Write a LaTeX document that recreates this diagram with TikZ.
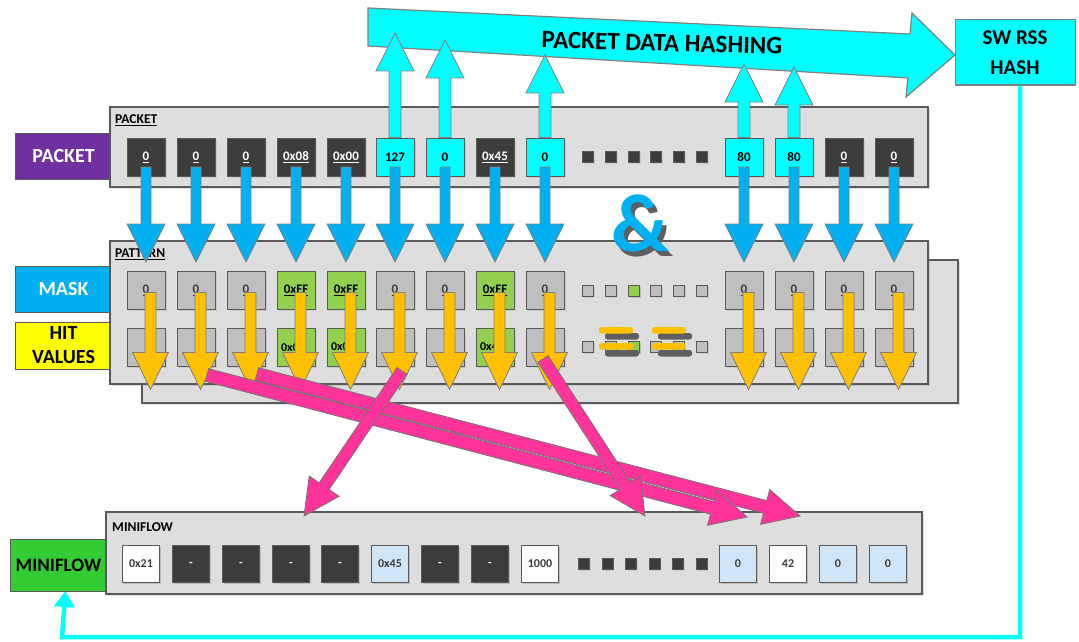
\documentclass[tikz,border=0pt]{standalone}
\usepackage{fontspec}
\setmainfont{Carlito}
\usetikzlibrary{calc,arrows.meta,shadows}

\definecolor{panelgray}{HTML}{DEDEDE}
\definecolor{edgegray}{HTML}{5A5A5A}
\definecolor{darkcell}{HTML}{3C3C3C}
\definecolor{graycell}{HTML}{BFBFBF}
\definecolor{greencell}{HTML}{92D050}
\definecolor{lightblue}{HTML}{CFE6F8}
\definecolor{hashcyan}{HTML}{00FFFF}
\definecolor{flowblue}{HTML}{00B0F0}
\definecolor{hitorange}{HTML}{FFC000}
\definecolor{pktpurple}{HTML}{7030A0}
\definecolor{hityellow}{HTML}{FFFF00}
\definecolor{mfgreen}{HTML}{33CC33}
\definecolor{movepink}{HTML}{FF3399}
\definecolor{shadegray}{HTML}{5F5F5F}

% filled block arrow: style, tail, tip, shaft half-width, head half-width, head length
\newcommand\fatarrow[6]{%
  \path #2 coordinate (fa-a);
  \path #3 coordinate (fa-b);
  \coordinate (fa-h) at ($(fa-b)!#6!(fa-a)$);
  \draw[#1] ($(fa-a)!#4!90:(fa-b)$) -- ($(fa-h)!#4!90:(fa-b)$)
    -- ($(fa-h)!#5!90:(fa-b)$) -- (fa-b) -- ($(fa-h)!#5!-90:(fa-b)$)
    -- ($(fa-h)!#4!-90:(fa-b)$) -- ($(fa-a)!#4!-90:(fa-b)$) -- cycle;
}

\tikzset{
  panel/.style={draw=edgegray, fill=panelgray, line width=1.3pt,
    drop shadow={opacity=0.25, shadow xshift=2pt, shadow yshift=-2pt}},
  paneltitle/.style={anchor=west, inner sep=0pt, font=\bfseries\fontsize{13.5}{15}\selectfont},
  sidelabel/.style={draw=edgegray, line width=1pt, minimum width=97pt, inner sep=0pt,
    align=center, font=\bfseries\fontsize{20}{24}\selectfont},
  cell/.style={draw=edgegray, line width=1pt, minimum width=38pt, minimum height=38pt,
    inner sep=0pt, font=\bfseries\fontsize{13}{15}\selectfont,
    drop shadow={opacity=0.2, shadow xshift=1.5pt, shadow yshift=-1.5pt}},
  dcell/.style={cell, fill=darkcell, text=white},
  ccell/.style={cell, fill=hashcyan, text=black},
  gcell/.style={cell, fill=graycell, text=darkcell},
  ncell/.style={cell, fill=greencell, text=black},
  wcell/.style={cell, fill=white, text=darkcell},
  bcell/.style={cell, fill=lightblue, text=darkcell},
  hcell/.style={ncell, font=\bfseries\fontsize{12}{14}\selectfont},
  mcell/.style={cell, minimum width=37pt, minimum height=37pt, font=\bfseries\fontsize{12}{14}\selectfont},
  dot/.style={draw=edgegray, line width=0.8pt, minimum size=11pt, inner sep=0pt,
    drop shadow={opacity=0.2, shadow xshift=1pt, shadow yshift=-1pt}},
  bluearr/.style={fill=flowblue, draw=gray, line width=0.8pt},
  orangearr/.style={fill=hitorange, draw=gray, line width=0.8pt},
  cyanarr/.style={fill=hashcyan, draw=gray, line width=0.8pt},
  pinkarr/.style={fill=movepink, draw=gray!90!black, line width=0.8pt},
  bar/.style={rounded corners=2.5pt},
}

\begin{document}
\begin{tikzpicture}[x=1pt, y=-1pt]
\useasboundingbox (0,0) rectangle (1079,642);

% ---------- hashing path ----------
\draw[fill=hashcyan, draw=gray, line width=1.2pt]
  (368,8) -- (910,34) -- (912,13) -- (955,55) -- (906,97) -- (908,78) -- (368,46) -- cycle;
\node[font=\bfseries\fontsize{25}{28}\selectfont, rotate=-1.5] (hashtxt) at (662,43) {PACKET DATA HASHING};
\node[draw=gray, fill=hashcyan, line width=1pt, minimum width=120pt, minimum height=65pt,
      align=center, font=\bfseries\fontsize{21}{30}\selectfont] (rss) at (1015,52.5) {SW RSS\\HASH};

% feedback from the software hash to the miniflow
\coordinate (fbturn) at (62,637);
\draw[hashcyan, line width=4.5pt, -{Triangle[width=20pt,length=16pt]}]
  ([xshift=5pt]rss.south) |- (fbturn) -- ([xshift=3.5pt]fbturn |- 0,591);

% ---------- side labels ----------
\node[sidelabel, fill=pktpurple, text=white, minimum height=46pt] (lpkt) at (63.5,156) {PACKET};
\node[sidelabel, fill=flowblue, text=white, minimum height=46pt] (lmask) at (63.5,289) {MASK};
\node[sidelabel, fill=hityellow, text=black, minimum height=47pt] (lhit) at (63.5,345.5) {HIT\\VALUES};
\node[sidelabel, fill=mfgreen, text=black, minimum height=52pt, font=\bfseries\fontsize{19}{22}\selectfont] (lmf) at (58.5,565) {MINIFLOW};

% ---------- panels ----------
\draw[panel] (110,107) rectangle (928,187);
\node[paneltitle] (tpkt) at (115,120) {\underline{PACKET}};

\draw[panel] (142,260) rectangle (958,403);
\draw[panel] (110,241) rectangle (928,384);
\node[paneltitle] (tpat) at (115,254) {\underline{PATTERN}};

\draw[panel] (106,512) rectangle (922,594);
\node[paneltitle] (tmf) at (112,527) {MINIFLOW};

% ---------- packet row ----------
\foreach \i/\x/\s/\t in {1/146/dcell/{\underline{0}}, 2/196/dcell/{\underline{0}},
    3/246/dcell/{\underline{0}}, 4/296/dcell/{\underline{0x08}}, 5/346/dcell/{\underline{0x00}},
    6/395/ccell/127, 7/445/ccell/0, 8/495/dcell/{\underline{0x45}}, 9/545/ccell/0,
    10/744/ccell/80, 11/794/ccell/80, 12/844/dcell/{\underline{0}}, 13/894/dcell/{\underline{0}}}
  {\node[\s] (p\i) at (\x,157) {\t};}

% ---------- mask row ----------
\foreach \i/\x/\s/\t in {1/146/gcell/{\underline{0}}, 2/196/gcell/{\underline{0}},
    3/246/gcell/{\underline{0}}, 4/296/ncell/{\underline{0xFF}}, 5/346/ncell/{\underline{0xFF}},
    6/395/gcell/{\underline{0}}, 7/445/gcell/{\underline{0}}, 8/495/ncell/{\underline{0xFF}},
    9/545/gcell/{\underline{0}}, 10/744/gcell/{\underline{0}}, 11/794/gcell/{\underline{0}},
    12/844/gcell/{\underline{0}}, 13/894/gcell/{\underline{0}}}
  {\node[\s] (m\i) at (\x,290.5) {\t};}

% ---------- hit values row ----------
\foreach \i/\x/\s/\t in {1/146/gcell/{}, 2/196/gcell/{}, 3/246/gcell/{},
    4/296/hcell/{\hspace*{-6pt}0x08}, 5/346/hcell/{\hspace*{-6pt}0x00}, 6/395/gcell/{},
    7/445/gcell/{}, 8/495/hcell/{\hspace*{-6pt}0x45}, 9/545/gcell/{},
    10/744/gcell/{}, 11/794/gcell/{}, 12/844/gcell/{}, 13/894/gcell/{}}
  {\node[\s] (h\i) at (\x,347) {\t};}

% ---------- elided fields ----------
\foreach \k/\x in {1/588, 2/611, 3/634, 4/656, 5/679, 6/702} {
  \node[dot, fill=darkcell] (pd\k) at (\x,157) {};
  \node[dot, fill=graycell] (md\k) at (\x,291) {};
  \node[dot, fill=graycell] (hd\k) at (\x,347) {};
}
\node[dot, fill=greencell] at (md3) {};
\node[dot, fill=greencell] at (hd3) {};
% masked comparison marks
\foreach \x in {605, 658} {
  \fill[shadegray, bar] (\x,333) rectangle ++(34,6.5);
  \fill[shadegray, bar] (\x,350) rectangle ++(34,6.5);
}
\foreach \x in {599, 652} {
  \fill[hitorange, bar] (\x,327) rectangle ++(34,6.5);
  \fill[hitorange, bar] (\x,343) rectangle ++(34,6.5);
}

% AND symbol with its shadow
\node[font=\bfseries\fontsize{82}{82}\selectfont, text=flowblue] (amp) at (640,226)
  {\makebox[0pt][l]{\hspace{4pt}\raisebox{-5pt}{\color{shadegray}\&}}\&};

% ---------- miniflow row ----------
\foreach \i/\x/\s/\t in {1/141/wcell/0x21, 2/191/dcell/-, 3/241/dcell/-, 4/291/dcell/-,
    5/340/dcell/-, 6/390/bcell/0x45, 7/440/dcell/-, 8/490/dcell/-, 9/540/wcell/1000,
    10/738/bcell/0, 11/788/wcell/42, 12/838/bcell/0, 13/888/bcell/0}
  {\node[\s, mcell] (f\i) at (\x,564) {\t};}
\foreach \k/\x in {1/584, 2/607.5, 3/631, 4/654.5, 5/678, 6/701.5}
  {\node[dot, fill=darkcell] (fd\k) at (\x,564) {};}

% ---------- fields fed to the hash ----------
\coordinate (t6) at (395,33);
\coordinate (t7) at (445,40);
\coordinate (t9) at (545,55);
\coordinate (t10) at (744,64);
\coordinate (t11) at (794,67);
\foreach \i in {6,7,9,10,11}
  {\fatarrow{cyanarr}{(p\i.north)}{(t\i)}{6pt}{19pt}{38pt}}

% ---------- packet bytes into the pattern ----------
\foreach \i in {1,...,13}
  {\fatarrow{bluearr}{($(p\i.center)+(0,10)$)}{($(m\i.north)+(0,-9)$)}{5pt}{19pt}{38pt}}

% ---------- masked bytes ----------
\foreach \i in {1,...,13}
  {\fatarrow{orangearr}{($(m\i.center)+(4.5,2)$)}{($(h\i.south)+(4.5,23)$)}{5.5pt}{18pt}{37pt}}

% ---------- extraction into the miniflow ----------
\coordinate (k1s) at (402,371);
\coordinate (k1e) at (304,516);
\coordinate (k2s) at (543,359);
\coordinate (k2e) at (645,516);
\coordinate (k3s) at (207,375);
\coordinate (k3e) at (747,517);
\coordinate (k4s) at (257,374);
\coordinate (k4e) at (800,516);
\fatarrow{pinkarr}{(k4s)}{(k4e)}{6.5pt}{18pt}{36pt}
\fatarrow{pinkarr}{(k3s)}{(k3e)}{6.5pt}{18pt}{36pt}
\fatarrow{pinkarr}{(k1s)}{(k1e)}{6pt}{18pt}{36pt}
\fatarrow{pinkarr}{(k2s)}{(k2e)}{6pt}{18pt}{36pt}
\end{tikzpicture}
\end{document}
